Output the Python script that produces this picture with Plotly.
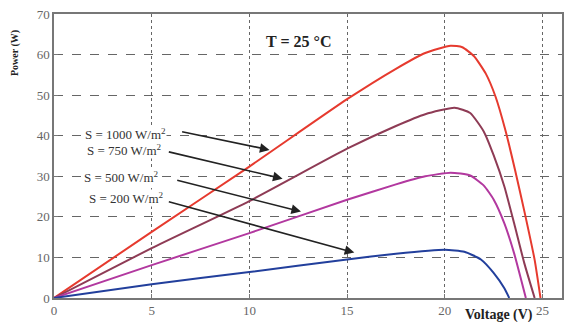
import plotly.graph_objects as go

# Data
V_1000 = [0, 5, 10, 15, 17.5, 19, 20.3, 20.9, 21.5, 22.1, 22.6, 23.1, 23.6, 24.1, 24.6, 24.9]
P_1000 = [0, 16.3, 32.4, 49, 56.5, 60.4, 62.2, 61.8, 59.6, 55.3, 49.6, 41.4, 31.5, 20.8, 9.4, 0]

V_750 = [0, 5, 10, 15, 17.5, 19, 20.5, 21.3, 22.0, 22.5, 23.05, 23.55, 24.07, 24.6]
P_750 = [0, 12.3, 23.9, 36.8, 42.4, 45.3, 46.9, 45.6, 41.0, 35.2, 27.5, 18.4, 8.6, 0]

V_500 = [0, 5, 10, 15, 17.5, 19, 20.3, 21.3, 22.0, 22.5, 23.05, 23.55, 24.15]
P_500 = [0, 8.1, 16, 24.2, 28.0, 30.0, 30.9, 30.2, 27.7, 24.3, 18.4, 11.0, 0]

V_200 = [0, 5, 10, 15, 17.5, 20, 21, 21.85, 22.5, 23.05, 23.3]
P_200 = [0, 3.4, 6.4, 9.5, 10.9, 11.9, 11.4, 9.5, 6.2, 2.4, 0]

labels = ["S = 1000 W/m<sup>2</sup>", "S = 750 W/m<sup>2</sup>",
          "S = 500 W/m<sup>2</sup>", "S = 200 W/m<sup>2</sup>"]
# arrow tails and heads (data coords)
arrow_tail = [(6.48, 41.06), (5.8, 36.1), (6.23, 29.1), (5.8, 23.8)]
arrow_head = [(11.03, 36.5), (11.7, 29.4), (12.64, 21.3), (15.37, 11.2)]
label_pos = [(3.67, 40.4), (3.6, 36.5), (3.47, 29.8), (3.7, 24.6)]

x_ticks = [0, 5, 10, 15, 20, 25]
y_ticks = [0, 10, 20, 30, 40, 50, 60, 70]

colors = ["#e63a2e", "#8e3b55", "#b2389f", "#223f9c"]
series = [(V_1000, P_1000), (V_750, P_750), (V_500, P_500), (V_200, P_200)]

fig = go.Figure()
for (vx, py), c in zip(series, colors):
    fig.add_trace(go.Scatter(x=vx, y=py, mode="lines",
                             line=dict(color=c, width=2, shape="spline", smoothing=0.5),
                             showlegend=False, hoverinfo="skip"))

serif = "Liberation Serif, Times New Roman, serif"

annotations = []
for lab, (lx, ly), (tx, ty), (hx, hy) in zip(labels, label_pos, arrow_tail, arrow_head):
    annotations.append(dict(x=lx, y=ly, xref="x", yref="y", text=lab, showarrow=False,
                            xanchor="center", yanchor="middle", bgcolor="white", borderpad=0,
                            font=dict(family=serif, size=13, color="#333")))
    annotations.append(dict(x=hx, y=hy, ax=tx, ay=ty, xref="x", yref="y",
                            axref="x", ayref="y", text="", showarrow=True,
                            arrowhead=2, arrowsize=1.2, arrowwidth=1.6, arrowcolor="#222"))

annotations.append(dict(x=12.5, y=63.2, xref="x", yref="y", text="<b>T = 25 °C</b>",
                        showarrow=False, font=dict(family=serif, size=16, color="#222")))
annotations.append(dict(x=0.876, y=-0.06, xref="paper", yref="paper", text="<b>Voltage (V)</b>",
                        showarrow=False, xanchor="center", yanchor="middle",
                        font=dict(family=serif, size=14, color="#222")))
annotations.append(dict(x=-0.0765, y=0.863, xref="paper", yref="paper", text="<b>Power (W)</b>",
                        showarrow=False, textangle=-90, xanchor="center", yanchor="middle",
                        font=dict(family=serif, size=10, color="#222")))

fig.update_layout(
    width=568, height=322,
    margin=dict(l=54, r=4, t=14, b=24),
    paper_bgcolor="white", plot_bgcolor="white",
    annotations=annotations,
    xaxis=dict(range=[0, 26], tickvals=x_ticks, ticktext=[str(t) for t in x_ticks],
               showgrid=True, gridcolor="#666", griddash="dot", gridwidth=1,
               zeroline=False, showline=True, linecolor="#777", linewidth=1.5, mirror=True,
               ticks="inside", ticklen=4, tickcolor="#777",
               tickfont=dict(family=serif, size=13, color="#666")),
    yaxis=dict(range=[0, 70], tickvals=y_ticks, ticktext=[str(t) for t in y_ticks],
               showgrid=True, gridcolor="#666", griddash="dash", gridwidth=1,
               zeroline=False, showline=True, linecolor="#777", linewidth=1.5, mirror=True,
               ticks="inside", ticklen=4, tickcolor="#777",
               tickfont=dict(family=serif, size=13, color="#666")),
)

fig.write_html("out.html", config={"displayModeBar": False},
               post_script="document.body.style.margin='0';")
